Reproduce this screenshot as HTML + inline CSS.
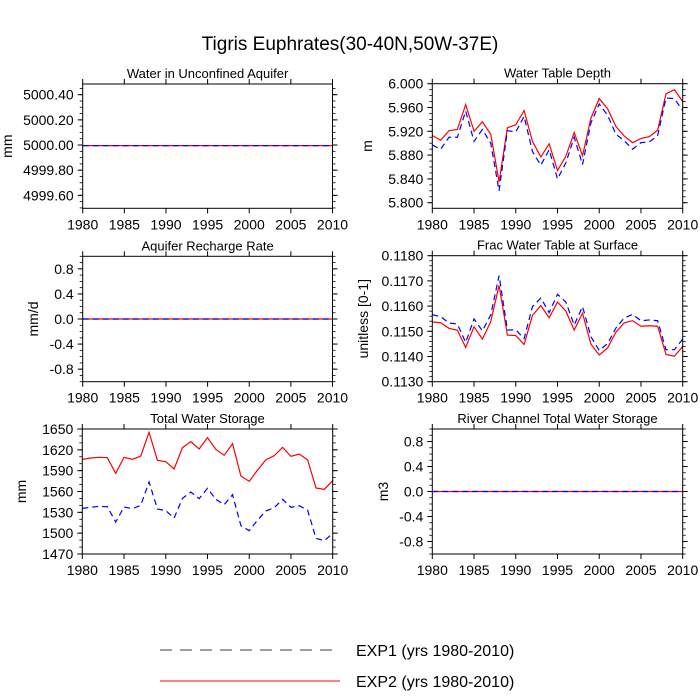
<!DOCTYPE html>
<html><head><meta charset="utf-8"><style>
body{margin:0;background:#fff;}
svg{display:block;font-family:"Liberation Sans",sans-serif;}
</style></head><body>
<svg id="c" width="700" height="700" xmlns="http://www.w3.org/2000/svg">
<text x="350" y="50" font-size="19" text-anchor="middle">Tigris Euphrates(30-40N,50W-37E)</text>
<g>
<line x1="160" y1="650" x2="340" y2="650" stroke="#000" stroke-width="0.8" stroke-dasharray="12,8"/>
<text x="356" y="656" font-size="16">EXP1 (yrs 1980-2010)</text>
<line x1="160" y1="681" x2="340" y2="681" stroke="#f00" stroke-width="1"/>
<text x="356" y="687" font-size="16">EXP2 (yrs 1980-2010)</text>
</g>
</svg>
<script>
const years = [];
for (let y = 1980; y <= 2010; y++) years.push(y);
const xTicks = [1980,1985,1990,1995,2000,2005,2010];

const aquiferExp1 = Array(31).fill(4999.995);
const aquiferExp2 = Array(31).fill(4999.995);
const wtdExp1 = [5.897,5.890,5.910,5.910,5.954,5.903,5.923,5.900,5.820,5.921,5.919,5.945,5.886,5.863,5.889,5.840,5.867,5.910,5.864,5.934,5.966,5.947,5.915,5.904,5.890,5.901,5.902,5.913,5.976,5.975,5.955];
const wtdExp2 = [5.913,5.905,5.921,5.923,5.965,5.920,5.936,5.915,5.835,5.926,5.931,5.955,5.903,5.877,5.899,5.854,5.878,5.918,5.879,5.942,5.975,5.958,5.928,5.912,5.901,5.908,5.911,5.922,5.983,5.990,5.970];
const rechargeExp1 = Array(31).fill(0);
const rechargeExp2 = Array(31).fill(0);
const fracExp1 = [0.11566,0.11558,0.11533,0.11529,0.11456,0.11549,0.11502,0.11565,0.11721,0.11505,0.11506,0.11471,0.11598,0.11632,0.11574,0.11647,0.11616,0.11525,0.11598,0.11479,0.11424,0.11451,0.11513,0.11553,0.11567,0.11542,0.11545,0.11542,0.11427,0.11427,0.11469];
const fracExp2 = [0.11537,0.11534,0.11512,0.11504,0.11436,0.11518,0.11469,0.11538,0.11682,0.11485,0.11483,0.11448,0.11563,0.11602,0.11554,0.11616,0.11580,0.11505,0.11572,0.11449,0.11406,0.11434,0.11497,0.11534,0.11542,0.11520,0.11522,0.11520,0.11408,0.11401,0.11440];
const twsExp1 = [1535.7,1537.2,1538.6,1538.1,1516.1,1537.7,1535.3,1540.1,1573.7,1534.8,1532.4,1521.8,1550.1,1559.3,1549.7,1564.6,1548.7,1541.0,1555.4,1510.8,1503.6,1518.9,1531.9,1536.7,1548.7,1537.2,1539.6,1532.9,1492.5,1489.2,1499.7];
const twsExp2 = [1606.3,1608.2,1609.2,1608.7,1586.2,1609.2,1606.3,1611.1,1645.2,1604.9,1603.0,1592.4,1623.1,1631.8,1621.2,1637.5,1620.7,1612.1,1628.9,1582.3,1574.6,1591.0,1605.8,1611.6,1623.6,1610.6,1614.0,1605.4,1565.0,1563.1,1575.6];
const riverExp1 = Array(31).fill(0);
const riverExp2 = Array(31).fill(0);

const aquiferTicks = [4999.6,4999.8,5000.0,5000.2,5000.4];
const wtdTicks = [5.80,5.84,5.88,5.92,5.96,6.00];
const unitTicks = [-0.8,-0.4,0,0.4,0.8];
const fracTicks = [0.113,0.114,0.115,0.116,0.117,0.118];
const twsTicks = [1470,1500,1530,1560,1590,1620,1650];

const panels = [
 {name:'water-in-unconfined-aquifer',title:'Water in Unconfined Aquifer',unit:'mm',x0:82.7,x1:332.5,y0:84,y1:208.3,ymin:4999.497,ymax:5000.485,ticks:aquiferTicks,dec:2,minor:0.05,e1:aquiferExp1,e2:aquiferExp2,tx:12},
 {name:'water-table-depth',title:'Water Table Depth',unit:'m',x0:432.3,x1:682.7,y0:83.7,y1:208.3,ymin:5.7906,ymax:6.0,ticks:wtdTicks,dec:3,minor:0.01,e1:wtdExp1,e2:wtdExp2,tx:372},
 {name:'aquifer-recharge-rate',title:'Aquifer Recharge Rate',unit:'mm/d',x0:82.7,x1:332.5,y0:256.3,y1:381.7,ymin:-1,ymax:1,ticks:unitTicks,dec:1,minor:0.1,e1:rechargeExp1,e2:rechargeExp2,tx:38},
 {name:'frac-water-table-at-surface',title:'Frac Water Table at Surface',unit:'unitless [0-1]',x0:432.3,x1:682.7,y0:255.7,y1:381.7,ymin:0.113,ymax:0.118,ticks:fracTicks,dec:4,minor:0.0002,e1:fracExp1,e2:fracExp2,tx:368},
 {name:'total-water-storage',title:'Total Water Storage',unit:'mm',x0:82.3,x1:332.7,y0:429,y1:554,ymin:1470,ymax:1650,ticks:twsTicks,dec:0,minor:10,e1:twsExp1,e2:twsExp2,tx:26},
 {name:'river-channel-total-water-storage',title:'River Channel Total Water Storage',unit:'m3',x0:432.3,x1:682.7,y0:429,y1:554,ymin:-1,ymax:1,ticks:unitTicks,dec:1,minor:0.1,e1:riverExp1,e2:riverExp2,tx:388}
];
const NS='http://www.w3.org/2000/svg';
const svg=document.getElementById('c');
function mk(tag,attrs,parent){const e=document.createElementNS(NS,tag);for(const k in attrs)e.setAttribute(k,attrs[k]);parent.appendChild(e);return e;}
panels.forEach(p=>{
 const g=mk('g',{},svg);
 
 
 const xs=v=>p.x0+(v-1980)/30*(p.x1-p.x0);
 const ys=v=>p.y1-(v-p.ymin)/(p.ymax-p.ymin)*(p.y1-p.y0);
 const t=mk('text',{x:(p.x0+p.x1)/2,y:p.y0-6,'font-size':13,'text-anchor':'middle'},g);
 t.textContent=p.title;
 
 
 const yt=mk('text',{x:p.tx,y:(p.y0+p.y1)/2,'font-size':14,'text-anchor':'middle',transform:`rotate(-90 ${p.tx} ${(p.y0+p.y1)/2})`},g);
 yt.textContent=p.unit;
 
 
 const start=Math.ceil((p.ymin)/p.minor-1e-6);
 for(let k=start;k*p.minor<=p.ymax+1e-9;k++){
  const y=ys(k*p.minor);
  mk('line',{x1:p.x0-3,x2:p.x0,y1:y,y2:y,stroke:'#000','stroke-width':0.8},g);
  mk('line',{x1:p.x1,x2:p.x1+3,y1:y,y2:y,stroke:'#000','stroke-width':0.8},g);
 }
 p.ticks.forEach(v=>{
  const y=ys(v);
  mk('line',{x1:p.x0-5,x2:p.x0,y1:y,y2:y,stroke:'#000','stroke-width':1},g);
  mk('line',{x1:p.x1,x2:p.x1+5,y1:y,y2:y,stroke:'#000','stroke-width':1},g);
  const l=mk('text',{x:p.x0-9,y:y+5,'font-size':14,'text-anchor':'end'},g);
  l.textContent=v.toFixed(p.dec);
  
  
 });
 xTicks.forEach(v=>{
  const x=xs(v);
  mk('line',{x1:x,x2:x,y1:p.y1,y2:p.y1+5,stroke:'#000','stroke-width':1},g);
  mk('line',{x1:x,x2:x,y1:p.y0-5,y2:p.y0,stroke:'#000','stroke-width':1},g);
  const l=mk('text',{x:x,y:p.y1+21,'font-size':14,'text-anchor':'middle'},g);
  l.textContent=v;
  
  
 });
 const clip='clip-'+p.name;
 const cp=mk('clipPath',{id:clip},g);
 mk('rect',{x:p.x0,y:p.y0,width:p.x1-p.x0,height:p.y1-p.y0},cp);
 const pts=arr=>arr.map((v,i)=>xs(years[i]).toFixed(2)+','+ys(v).toFixed(2)).join(' ');
 const l2=mk('polyline',{points:pts(p.e2),fill:'none',stroke:'#f00','stroke-width':1.2,'clip-path':`url(#${clip})`},g);
 
 
 const l1=mk('polyline',{points:pts(p.e1),fill:'none',stroke:'#00f','stroke-width':1.2,'stroke-dasharray':'6,4','clip-path':`url(#${clip})`},g);
 
 
 const fr=mk('rect',{x:p.x0,y:p.y0,width:p.x1-p.x0,height:p.y1-p.y0,fill:'none',stroke:'#000','stroke-width':1},g);
 
 
});
</script>
</body></html>
